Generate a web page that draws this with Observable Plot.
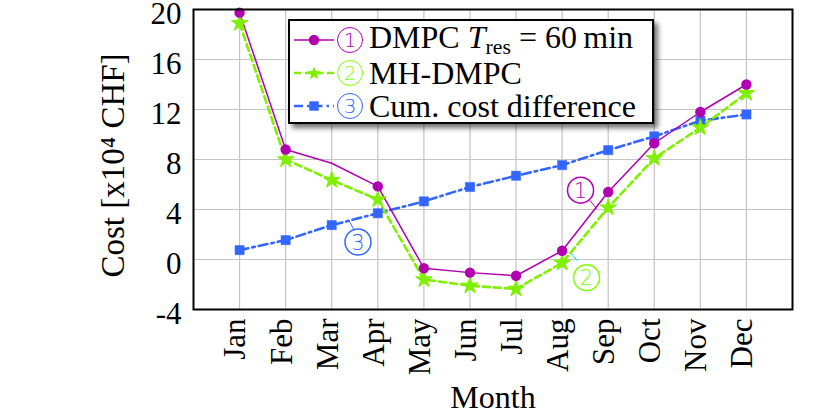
<!DOCTYPE html>
<html>
<head>
<meta charset="utf-8">
<script src="https://cdn.jsdelivr.net/npm/d3@7"></script>
<script src="https://cdn.jsdelivr.net/npm/@observablehq/plot@0.6"></script>
<style>
  html, body { margin: 0; padding: 0; background: #fff; }
  #wrap { position: relative; width: 831px; height: 412px; overflow: hidden; }
  #legend {
    position: absolute; left: 288px; top: 19px; width: 362px; height: 101px;
    border: 2px solid #000; background: #fff;
    box-shadow: 4px 4px 5px rgba(0,0,0,0.55);
    font-family: "Liberation Serif", serif; font-size: 32px; color: #000;
  }
  .row { position: absolute; left: 4px; height: 32px; line-height: 32px; display: flex; align-items: center; white-space: nowrap; }
  .cn {
    display: inline-flex; align-items: center; justify-content: center;
    width: 24px; height: 24px; border-radius: 50%; border: 1.5px solid;
    font-family: "DejaVu Sans", sans-serif; font-weight: 200; font-size: 20px; line-height: 1;
    margin-left: 3px; margin-right: 6px;
  }
  .row sub { font-size: 0.68em; vertical-align: -0.3em; line-height: 1; display: inline-block; }
</style>
</head>
<body>
<div id="wrap"></div>
<script>
const months = ["Jan","Feb","Mar","Apr","May","Jun","Jul","Aug","Sep","Oct","Nov","Dec"];
const dmpc    = [19.75, 8.8, 7.7, 5.85, -0.7, -1.05, -1.3, 0.7, 5.4, 9.3, 11.8, 14.0];
const mhdmpc  = [18.9, 8.0, 6.35, 4.8, -1.6, -2.1, -2.35, -0.27, 4.15, 8.1, 10.55, 13.3];
const cumdiff = [0.75, 1.55, 2.75, 3.7, 4.65, 5.8, 6.7, 7.55, 8.75, 9.85, 11.1, 11.6];
const yTicks  = [-4, 0, 4, 8, 12, 16, 20];

const purple = "#b000b0", green = "#80f000", blue = "#3366ff";

// callout circles (numbers) and their leader lines, in data units
const notes = [
  {label: "1", x: 8.40, y: 5.55, color: purple},
  {label: "2", x: 8.53, y: -1.45, color: "#80ff00"},
  {label: "3", x: 3.57, y: 1.40, color: blue}
];
const leaders = [
  {x1: 8.60, y1: 4.74, x2: 8.745, y2: 4.08, color: purple},
  {x1: 8.20, y1: 0.48, x2: 8.33, y2: -0.11, color: "#00e5ff"},
  {x1: 3.37, y1: 3.14, x2: 3.49, y2: 2.34, color: blue}
];

const idx = months.map((m, i) => i + 1);
const rows = (vals) => vals.map((v, i) => ({x: i + 1, y: v, m: months[i]}));
const dA = rows(dmpc), dB = rows(mhdmpc), dC = rows(cumdiff);

const chart = Plot.plot({
  width: 831, height: 412,
  marginLeft: 193, marginRight: 39, marginTop: 9, marginBottom: 103,
  style: {fontFamily: "Liberation Serif, serif", fontSize: "31px", background: "#fff", overflow: "visible"},
  x: {type: "linear", domain: [0, 13]},
  y: {domain: [-4, 20]},
  color: {type: "identity"},
  marks: [
    Plot.ruleX(idx, {stroke: "#c4c4c4", strokeWidth: 1.2}),
    Plot.ruleY(yTicks, {stroke: "#c4c4c4", strokeWidth: 1.2}),
    Plot.axisX({ticks: idx, tickFormat: d => months[d - 1], tickRotate: -90, tickSize: 0, tickPadding: 9, dx: -4, label: null}),
    Plot.axisY({ticks: yTicks, tickFormat: d => String(d), tickSize: 0, tickPadding: 12, dy: 5, label: null}),
    Plot.text(["Month"], {frameAnchor: "bottom", lineAnchor: "bottom", dy: 98, fontSize: 32}),
    Plot.text(["Cost [x10\u2074 CHF]"], {frameAnchor: "left", textAnchor: "middle", dx: -80, dy: 6, rotate: -90, fontSize: 33}),
    // lines
    Plot.line(dC, {x: "x", y: "y", stroke: blue, strokeWidth: 2.6, strokeDasharray: "9,4,2.5,4"}),
    Plot.line(dB, {x: "x", y: "y", stroke: green, strokeWidth: 2.6, strokeDasharray: "7,4"}),
    Plot.line(dA, {x: "x", y: "y", stroke: purple, strokeWidth: 1.5}),
    // markers
    Plot.dot(dC, {x: "x", y: "y", symbol: "square", r: 5.2, fill: blue, stroke: blue, strokeWidth: 0.5}),
    Plot.dot(dB, {x: "x", y: "y", symbol: "star", r: 5.2, fill: green, stroke: green, strokeWidth: 1}),
    Plot.dot(dA.filter((d, i) => i !== 2), {x: "x", y: "y", r: 5.2, fill: purple}),
    // callouts
    Plot.link(leaders, {x1: "x1", y1: "y1", x2: "x2", y2: "y2", stroke: "color", strokeWidth: 1}),
    Plot.dot(notes, {x: "x", y: "y", r: 13, stroke: "color", strokeWidth: 1.5, fill: "none"}),
    Plot.text(notes, {x: "x", y: "y", text: "label", fill: "color", fontFamily: "DejaVu Sans, sans-serif", fontWeight: 200, fontSize: 21, dy: 1}),
    Plot.frame({stroke: "#000", strokeWidth: 2})
  ]
});

const wrap = document.getElementById("wrap");
wrap.appendChild(chart);

// legend
const legend = document.createElement("div");
legend.id = "legend";
const starPts = (cx, cy, R, r) => d3.range(10).map(k => {
  const a = -Math.PI / 2 + k * Math.PI / 5, rr = k % 2 ? r : R;
  return [cx + rr * Math.cos(a), cy + rr * Math.sin(a)].join(",");
}).join(" ");
const items = [
  {n: "1", color: purple, circ: purple, dash: "", w: 1.5,
   sym: `<circle cx="20" cy="10" r="5.2" fill="${purple}"/>`,
   html: `DMPC <i>T</i><sub>res</sub> = 60&#8201;min`},
  {n: "2", color: green, circ: "#80ff00", dash: "7,4", w: 2.6,
   sym: `<polygon points="${starPts(20, 10.5, 7, 3)}" fill="${green}"/>`,
   html: `MH-DMPC`},
  {n: "3", color: blue, circ: blue, dash: "9,4,2.5,4", w: 2.6,
   sym: `<rect x="15.3" y="5.3" width="9.4" height="9.4" fill="${blue}"/>`,
   html: `Cum. cost difference`}
];
items.forEach((it, i) => {
  const row = document.createElement("div");
  row.className = "row";
  row.style.top = (3 + i * 33) + "px";
  row.innerHTML =
    `<svg width="40" height="20" style="overflow:visible"><line x1="0" y1="10" x2="40" y2="10" stroke="${it.color}" stroke-width="${it.w}" stroke-dasharray="${it.dash}"/>${it.sym}</svg>` +
    `<span class="cn" style="color:${it.circ};border-color:${it.circ}">${it.n}</span>` +
    `<span>${it.html}</span>`;
  legend.appendChild(row);
});
wrap.appendChild(legend);
</script>
</body>
</html>
